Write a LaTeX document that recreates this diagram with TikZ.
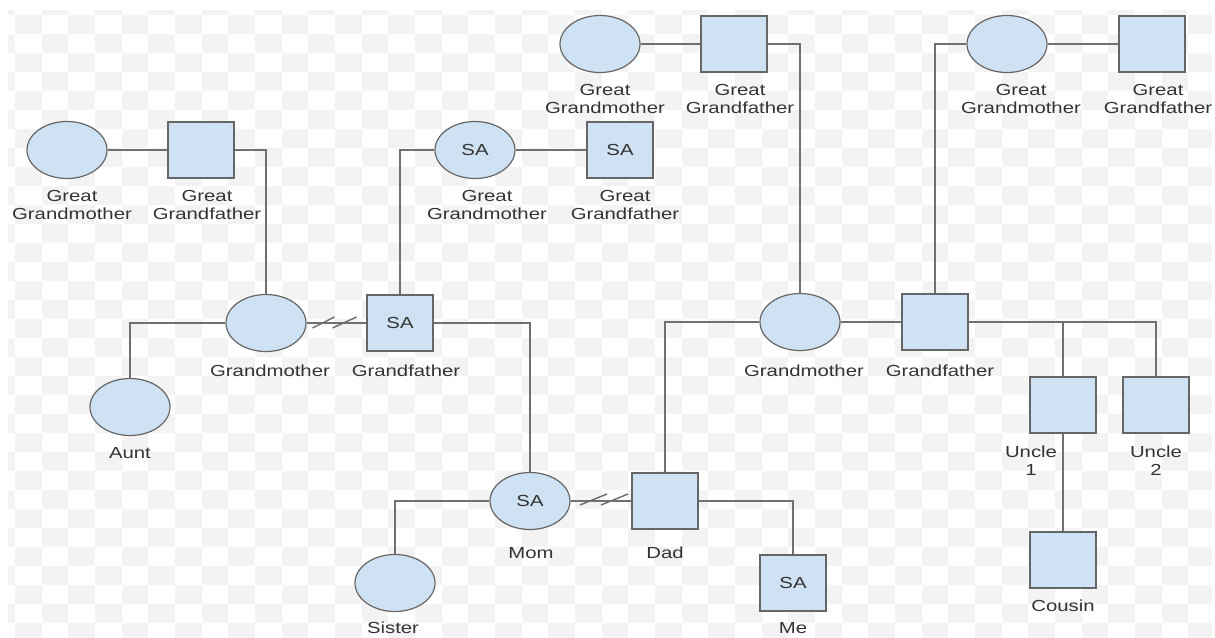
\documentclass[tikz,border=0pt]{standalone}
\usepackage{fontspec}
\setmainfont{Liberation Sans}[FakeStretch=1.27]
\usetikzlibrary{shapes.geometric,calc}
\definecolor{fillc}{HTML}{CFE2F3}
\definecolor{outl}{HTML}{666666}
\definecolor{linec}{HTML}{707070}
\definecolor{txt}{HTML}{333333}
\definecolor{chk}{HTML}{F3F3F3}
\begin{document}
\begin{tikzpicture}[x=0.75pt,y=-0.75pt,
  fem/.style={ellipse,draw=outl,fill=fillc,line width=0.9pt,minimum width=60pt,minimum height=42.75pt,inner sep=0pt,text=txt,font=\fontsize{12}{14}\selectfont},
  mal/.style={rectangle,draw=outl,fill=fillc,line width=0.9pt,minimum width=49.5pt,minimum height=42pt,inner sep=0pt,text=txt,font=\fontsize{12}{14}\selectfont},
  lbl/.style={align=center,text=txt,font=\fontsize{12}{13.5}\selectfont,inner sep=0pt},
  conn/.style={draw=linec,line width=1.1pt},
  slash/.style={draw=linec,line width=1.1pt}]
\useasboundingbox (0,0) rectangle (1215,637);
% checkered background
\begin{scope}
\clip (8,10) rectangle (1212,637);
\foreach \i in {-1,...,45}{
  \foreach \j in {-1,...,32}{
    \pgfmathtruncatemacro\p{mod(\i+\j+2,2)}
    \ifnum\p=0
      \fill[chk] ({15+26.67*\i},{15+19*\j}) rectangle ++(26.67,19);
    \fi
  }
}
\end{scope}

% top-left great grandparents
\node[fem] (ggm1) at (67,150) {};
\node[mal] (ggf1) at (201,150) {};
\node[lbl] (ggm1l) at (72,205) {Great\\Grandmother};
\node[lbl] (ggf1l) at (207,205) {Great\\Grandfather};

% SA great grandparents
\node[fem] (ggm2) at (475,150) {SA};
\node[mal] (ggf2) at (620,150) {SA};
\node[lbl] (ggm2l) at (487,205) {Great\\Grandmother};
\node[lbl] (ggf2l) at (625,205) {Great\\Grandfather};

% top right great grandparents
\node[fem] (ggm3) at (600,44) {};
\node[mal] (ggf3) at (734,44) {};
\node[lbl] (ggm3l) at (605,99) {Great\\Grandmother};
\node[lbl] (ggf3l) at (740,99) {Great\\Grandfather};

\node[fem] (ggm4) at (1007,44) {};
\node[mal] (ggf4) at (1152,44) {};
\node[lbl] (ggm4l) at (1021,99) {Great\\Grandmother};
\node[lbl] (ggf4l) at (1158,99) {Great\\Grandfather};

% grandparents
\node[fem] (gm1) at (266,323) {};
\node[mal] (gf1) at (400,323) {SA};
\node[lbl] (gm1l) at (270,371) {Grandmother};
\node[lbl] (gf1l) at (406,371) {Grandfather};

\node[fem] (gm2) at (800,322) {};
\node[mal] (gf2) at (935,322) {};
\node[lbl] (gm2l) at (804,371) {Grandmother};
\node[lbl] (gf2l) at (940,371) {Grandfather};

% aunt
\node[fem] (aunt) at (130,407) {};
\node[lbl] (auntl) at (130,453) {Aunt};

% uncles and cousin
\node[mal] (u1) at (1063,405) {};
\node[mal] (u2) at (1156,405) {};
\node[lbl] (u1l) at (1031,461) {Uncle\\1};
\node[lbl] (u2l) at (1156,461) {Uncle\\2};
\node[mal] (cous) at (1063,560) {};
\node[lbl] (cousl) at (1063,606) {Cousin};

% parents
\node[fem] (mom) at (530,501) {SA};
\node[mal] (dad) at (665,501) {};
\node[lbl] (moml) at (531,553) {Mom};
\node[lbl] (dadl) at (665,553) {Dad};

% children
\node[fem] (sis) at (395,583) {};
\node[mal] (me) at (793,583) {SA};
\node[lbl] (sisl) at (393,628) {Sister};
\node[lbl] (mel) at (793,628) {Me};

% connectors
\draw[conn] (ggm1) -- (ggf1);
\draw[conn] (ggf1.east) -| (gm1.north);
\draw[conn] (ggm2) -- (ggf2);
\draw[conn] (gf1.north) |- (ggm2.west);
\draw[conn] (ggm3) -- (ggf3);
\draw[conn] (ggf3.east) -| (gm2.north);
\draw[conn] (ggm4) -- (ggf4);
\draw[conn] (gf2.north) |- (ggm4.west);

\draw[conn] (gm1) -- (gf1);
\path (gm1.east) -- (gf1.west) coordinate[pos=0.5] (m1);
\draw[slash] ($(m1)+(-24,5)$) -- ($(m1)+(-2,-6)$);
\draw[slash] ($(m1)+(-4,5)$) -- ($(m1)+(20,-6)$);

\draw[conn] (gm1.west) -| (aunt.north);
\draw[conn] (gf1.east) -| (mom.north);

\draw[conn] (gm2) -- (gf2);
\draw[conn] (gf2.east) -| (u2.north);
\draw[conn] (gf2.east -| u1.north) -- (u1.north);
\draw[conn] (u1.south) -- (cous.north);

\draw[conn] (mom) -- (dad);
\path (mom.east) -- (dad.west) coordinate[pos=0.5] (m2);
\draw[slash] ($(m2)+(-21,4)$) -- ($(m2)+(6,-7)$);
\draw[slash] ($(m2)+(0,4)$) -- ($(m2)+(27,-7)$);

\draw[conn] (mom.west) -| (sis.north);
\draw[conn] (dad.east) -| (me.north);
\draw[conn] (dad.north) |- (gm2.west);
\end{tikzpicture}
\end{document}
